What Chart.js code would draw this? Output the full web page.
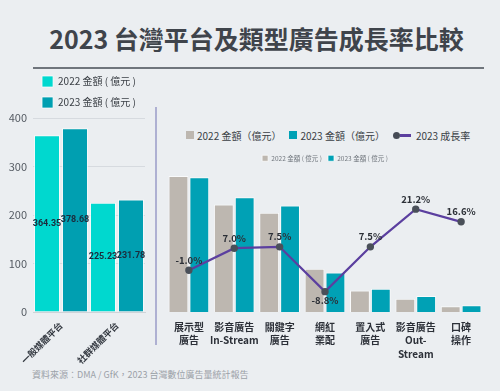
<!DOCTYPE html>
<html>
<head>
<meta charset="utf-8">
<script src="https://cdn.jsdelivr.net/npm/chart.js@4"></script>
<style>
  html, body { margin: 0; padding: 0; }
  body {
    width: 500px; height: 391px; overflow: hidden; position: relative;
    background: #ebeef1;
    font-family: "Noto Sans CJK TC", "Noto Sans", sans-serif;
  }
  .abs { position: absolute; }
  #title {
    left: 0; top: 22px; width: 513px; text-align: center;
    font-size: 25px; font-weight: bold; color: #3f444b; line-height: 32px;
  }
  #rule { left: 33px; top: 67px; width: 451px; height: 2px; background: #6f757c; z-index: 2; }
  #divider { left: 155px; top: 107px; width: 2px; height: 238px; background: #aeb0d2; }
  #bigLegend {
    left: 186px; top: 127px; height: 16px; display: flex; align-items: center;
    font-size: 10px; color: #3a3f45; white-space: nowrap;
  }
  #bigLegend .box { width: 8px; height: 8px; display: inline-block; margin-right: 3px; }
  #bigLegend .item { display: flex; align-items: center; margin-right: 8px; }
  #bigLegend .dot { width: 7px; height: 7px; border-radius: 50%; background: #454b55; display: inline-block; }
  #bigLegend .ln { width: 11px; height: 3px; background: #5b3f9f; display: inline-block; margin-right: 5px; }
  #source { left: 32px; top: 368px; font-size: 9px; color: #9ba1a8; white-space: nowrap; }
</style>
</head>
<body>
<div id="title" class="abs">2023 台灣平台及類型廣告成長率比較</div>
<div id="rule" class="abs"></div>
<div id="divider" class="abs"></div>

<div class="abs" style="left:0;top:66px;width:148px;height:298px;">
  <canvas id="platformChart"></canvas>
</div>

<div id="bigLegend" class="abs">
  <span class="item"><span class="box" style="background:#bdb7b0"></span>2022 金額（億元）</span>
  <span class="item"><span class="box" style="background:#00a1b5"></span>2023 金額（億元）</span>
  <span class="item"><span class="dot"></span><span class="ln"></span>2023 成長率</span>
</div>

<div class="abs" style="left:160px;top:149px;width:330px;height:213px;">
  <canvas id="typeChart"></canvas>
</div>

<div id="source" class="abs">資料來源：DMA / GfK，2023 台灣數位廣告量統計報告</div>

<script>
// platform totals (億元)
const platformLabels = ["一般媒體平台", "社群媒體平台"];
const platform2022 = [364.35, 225.23];
const platform2023 = [378.68, 231.78];
const platformTicks = [0, 100, 200, 300, 400];

// ad types (億元) + growth (%)
const typeLabels = [
  ["展示型", "廣告"],
  ["影音廣告", "In-Stream"],
  ["關鍵字", "廣告"],
  ["網紅", "業配"],
  ["置入式", "廣告"],
  ["影音廣告", "Out-", "Stream"],
  ["口碑", "操作"],
];
const type2022 = [280, 221, 204, 89, 44, 27, 12];
const type2023 = [277, 236, 219, 81, 48, 33, 14];
const typeGrowth = [-1.0, 7.0, 7.5, -8.8, 7.5, 21.2, 16.6];

Chart.defaults.font.family = '"Noto Sans CJK TC", "Noto Sans", sans-serif';
Chart.defaults.color = "#555b63";
Chart.defaults.animation = false;

// draws the value text on bars / points
const valueLabels = {
  id: "valueLabels",
  afterDatasetsDraw(chart) {
    const ctx = chart.ctx;
    ctx.save();
    chart.data.datasets.forEach((ds, i) => {
      const meta = chart.getDatasetMeta(i);
      if (!ds.labelMode) return;
      ctx.font = "bold " + ds.labelSize + "px " + ds.labelFont;
      ctx.fillStyle = ds.labelColor;
      ctx.textAlign = "center";
      ctx.textBaseline = "middle";
      meta.data.forEach((el, j) => {
        const v = ds.data[j];
        if (ds.labelMode === "center") {
          ctx.fillText(v.toFixed(2), el.x, (el.y + el.base) / 2);
        } else {
          const dy = v < -5 ? 9 : -10;
          ctx.fillText(v.toFixed(1) + "%", el.x, el.y + dy);
        }
      });
    });
    ctx.restore();
  },
};

const platformChart = new Chart(document.getElementById("platformChart"), {
  type: "bar",
  data: {
    labels: platformLabels,
    datasets: [
      {
        label: "2022 金額 ( 億元 )",
        data: platform2022,
        backgroundColor: "#00d8cf",
        borderColor: "rgba(255,255,255,0.7)",
        borderWidth: 1,
        labelMode: "center",
        labelSize: 9,
        labelFont: "Roboto, sans-serif",
        labelColor: "#1b2b3c",
      },
      {
        label: "2023 金額 ( 億元 )",
        data: platform2023,
        backgroundColor: "#009fb1",
        borderColor: "rgba(255,255,255,0.7)",
        borderWidth: 1,
        labelMode: "center",
        labelSize: 9,
        labelFont: "Roboto, sans-serif",
        labelColor: "#1b2b3c",
      },
    ],
  },
  options: {
    responsive: true,
    maintainAspectRatio: false,
    categoryPercentage: 1.0,
    barPercentage: 0.93,
    layout: { padding: { left: 0, right: 3, top: 0, bottom: 0 } },
    plugins: {
      legend: {
        position: "top",
        align: "center",
        fullSize: false,
        labels: {
          boxWidth: 11,
          boxHeight: 11,
          padding: 10,
          color: "#3a3f45",
          font: { size: 10 },
        },
      },
      tooltip: { enabled: false },
    },
    scales: {
      x: {
        grid: { display: false },
        border: { display: true, color: "#cfd3d8" },
        ticks: {
          padding: 0,
          maxRotation: 45,
          minRotation: 45,
          color: "#333840",
          font: { size: 9, weight: "bold" },
        },
        afterFit: (s) => { s.height = 52; },
      },
      y: {
        min: 0,
        max: 400,
        afterBuildTicks: (s) => { s.ticks = platformTicks.map((v) => ({ value: v })); },
        grid: { color: "#d6dadf", drawTicks: false },
        border: { display: false },
        ticks: { padding: 6, color: "#555b63", font: { size: 11 } },
        afterFit: (s) => { s.width = 33; },
      },
    },
  },
  plugins: [valueLabels],
});

const typeChart = new Chart(document.getElementById("typeChart"), {
  type: "bar",
  data: {
    labels: typeLabels,
    datasets: [
      {
        type: "line",
        label: "2023 成長率",
        data: typeGrowth,
        yAxisID: "y1",
        borderColor: "#5b3f9f",
        borderWidth: 2.2,
        pointRadius: 2.6,
        pointBackgroundColor: "#4a5059",
        pointBorderColor: "#4a5059",
        tension: 0,
        order: 0,
        labelMode: "point",
        labelSize: 9.5,
        labelFont: '"Noto Sans CJK TC", sans-serif',
        labelColor: "#2b2f36",
      },
      {
        label: "2022 金額 ( 億元 )",
        data: type2022,
        backgroundColor: "#bdb7b0",
        borderColor: "rgba(255,255,255,0.7)",
        borderWidth: 1,
        order: 1,
      },
      {
        label: "2023 金額 ( 億元 )",
        data: type2023,
        backgroundColor: "#00a1b5",
        borderColor: "rgba(255,255,255,0.7)",
        borderWidth: 1,
        order: 1,
      },
    ],
  },
  options: {
    responsive: true,
    maintainAspectRatio: false,
    categoryPercentage: 0.92,
    barPercentage: 0.95,
    layout: { padding: { left: 5, right: 5, top: 0, bottom: 0 } },
    plugins: {
      legend: {
        position: "top",
        fullSize: false,
        labels: {
          boxWidth: 6,
          boxHeight: 6,
          padding: 6,
          color: "#70767d",
          font: { size: 6.5 },
          filter: (item) => item.datasetIndex !== 0,
        },
      },
      tooltip: { enabled: false },
    },
    scales: {
      x: {
        grid: { display: false },
        border: { display: false },
        ticks: {
          padding: 0,
          maxRotation: 0,
          autoSkip: false,
          color: "#2c3038",
          font: { size: 10, weight: "bold", lineHeight: 1.38 },
        },
        afterFit: (s) => { s.height = 50; },
      },
      y: { display: false, min: 0, max: 289 },
      y1: { display: false, min: -16.2, max: 34.9 },
    },
  },
  plugins: [valueLabels],
});
</script>
</body>
</html>
